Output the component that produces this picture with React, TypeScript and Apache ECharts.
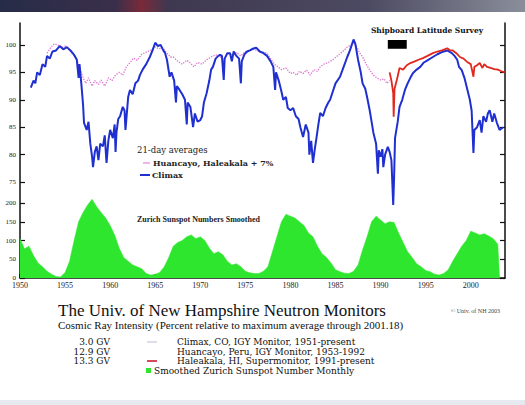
import React, { useEffect, useRef } from "react";
import * as echarts from "echarts";

// ---- Data ----
const xTickYears = [1950, 1955, 1960, 1965, 1970, 1975, 1980, 1985, 1990, 1995, 2000];
const cosmicTicks = [75, 80, 85, 90, 95, 100];
const sunspotTicks = [0, 50, 100, 150, 200];

const climaxYears = [
  1951.2, 1951.5, 1951.7, 1951.9, 1952.2, 1952.5, 1952.8, 1953.0, 1953.3, 1953.6, 1954.0, 1954.4, 1954.8,
  1955.2, 1955.6, 1956.0, 1956.3, 1956.5, 1956.6, 1956.8, 1957.0, 1957.1, 1957.4, 1957.6, 1957.8, 1958.0,
  1958.1, 1958.3, 1958.5, 1958.7, 1958.9, 1959.2, 1959.4, 1959.6, 1959.8, 1960.0, 1960.3, 1960.5, 1960.6,
  1960.7, 1960.9, 1961.1, 1961.4, 1961.6, 1961.7, 1962.0, 1962.2, 1962.5, 1962.8, 1963.1, 1963.3, 1963.6,
  1964.0, 1964.4, 1964.7, 1965.0, 1965.3, 1965.6, 1965.9, 1966.1, 1966.3, 1966.6, 1966.8, 1967.1, 1967.3,
  1967.4, 1967.7, 1968.0, 1968.3, 1968.5, 1968.6, 1968.9, 1969.2, 1969.4, 1969.7, 1970.0, 1970.2, 1970.4,
  1970.7, 1971.0, 1971.2, 1971.4, 1971.7, 1972.0, 1972.2, 1972.4, 1972.6, 1972.7, 1973.0, 1973.3, 1973.5,
  1973.7, 1974.0, 1974.3, 1974.5, 1974.6, 1974.9, 1975.2, 1975.5, 1975.8, 1976.2, 1976.6, 1977.0, 1977.4,
  1977.8, 1978.1, 1978.3, 1978.4, 1978.7, 1979.0, 1979.2, 1979.5, 1979.7, 1980.0, 1980.3, 1980.6, 1980.9,
  1981.1, 1981.4, 1981.7, 1982.0, 1982.1, 1982.3, 1982.5, 1982.7, 1982.9, 1983.1, 1983.3, 1983.6, 1983.9,
  1984.2, 1984.4, 1984.7, 1985.0, 1985.5, 1985.9, 1986.3, 1986.6, 1987.0, 1987.2, 1987.5, 1987.8, 1988.0,
  1988.3, 1988.5, 1988.8, 1989.0, 1989.2, 1989.5, 1989.7, 1989.8, 1990.0, 1990.2, 1990.3, 1990.5, 1990.8,
  1991.0, 1991.2, 1991.4, 1991.5, 1991.6, 1991.9, 1992.1, 1992.4, 1992.7, 1993.0, 1993.3, 1993.6, 1994.0,
  1994.4, 1994.8, 1995.2, 1995.8, 1996.3, 1996.8, 1997.4, 1997.9, 1998.2, 1998.5, 1998.7, 1999.0, 1999.3,
  1999.6, 1999.9, 2000.1, 2000.3, 2000.4, 2000.7, 2001.0, 2001.2, 2001.4, 2001.7, 2001.9, 2002.1, 2002.4,
  2002.6, 2002.9, 2003.2, 2003.6,
];
const climaxValues = [
  92.2, 93.5, 93.0, 95.0, 94.5, 96.5, 96.0, 98.0, 97.5, 98.8, 99.0, 99.8, 99.2,
  99.6, 99.0, 98.2, 97.3, 94.0, 96.5, 93.0, 89.0, 85.8, 84.5, 86.0, 82.0, 79.6,
  77.7, 80.5, 81.5, 79.0, 82.0, 81.5, 83.5, 78.5, 82.5, 84.5, 83.0, 85.5, 80.5,
  84.0, 86.5, 87.0, 88.7, 88.0, 84.5, 90.5, 91.8, 91.0, 93.0, 93.5, 94.5, 95.5,
  96.5, 97.8, 99.0, 100.4, 99.8, 100.0, 99.0, 98.5, 97.3, 94.2, 95.0, 93.5, 89.5,
  92.5, 91.8, 91.0, 90.0, 85.5, 89.5, 88.7, 85.0, 87.5, 86.0, 86.3, 87.0, 89.5,
  91.2, 93.5, 95.5, 96.0, 97.5, 98.0, 98.2, 98.0, 93.6, 97.5, 98.5, 98.5, 97.0,
  98.8, 98.0, 97.5, 93.0, 97.0, 98.3, 98.8, 99.0, 99.3, 99.5, 98.8, 98.5, 98.0,
  97.0, 96.0, 91.8, 95.0, 93.5, 91.5, 90.0, 90.5, 88.5, 88.1, 88.5, 87.0, 86.5,
  85.0, 83.2, 85.5, 84.0, 80.0, 82.5, 78.5, 81.0, 83.2, 85.5, 87.6, 87.0, 88.5,
  89.5, 90.0, 91.5, 93.0, 94.2, 96.0, 97.8, 99.0, 101.0, 100.2, 97.3, 95.0, 93.0,
  92.0, 90.5, 88.0, 86.0, 84.0, 82.0, 76.5, 80.8, 79.6, 81.0, 77.7, 80.0, 81.4,
  80.5, 79.0, 70.8, 76.0, 83.0, 86.0, 88.7, 90.0, 91.8, 93.0, 94.0, 94.9, 95.5,
  96.0, 96.8, 97.2, 97.8, 98.3, 98.7, 99.0, 98.5, 98.0, 97.3, 96.0, 95.4, 94.0,
  92.0, 90.0, 88.0, 80.3, 84.5, 85.0, 86.3, 84.0, 87.0, 86.0, 87.5, 88.1, 86.0,
  87.5, 85.8, 84.5, 85.0,
];

const huancayoYears = [
  1953.0, 1953.4, 1953.8, 1954.2, 1954.6, 1955.0, 1955.5, 1956.0, 1956.3, 1956.7, 1957.0, 1957.3, 1957.6,
  1958.0, 1958.3, 1958.7, 1959.0, 1959.4, 1959.8, 1960.2, 1960.6, 1961.0, 1961.4, 1961.8, 1962.2, 1962.6,
  1963.0, 1963.5, 1964.0, 1964.5, 1965.0, 1965.4, 1965.8, 1966.3, 1966.7, 1967.0, 1967.5, 1968.0, 1968.5,
  1968.9, 1969.3, 1969.7, 1970.2, 1970.7, 1971.2, 1971.7, 1972.2, 1972.6, 1973.0, 1973.5, 1974.0, 1974.5,
  1975.0, 1975.5, 1976.0, 1976.5, 1977.0, 1977.4, 1977.8, 1978.2, 1978.6, 1979.0, 1979.5, 1980.0, 1980.3,
  1980.7, 1981.0, 1981.4, 1981.8, 1982.2, 1982.6, 1983.0, 1983.3, 1983.7, 1984.2, 1984.7, 1985.2, 1985.8,
  1986.3, 1986.7, 1987.0, 1987.4, 1987.7, 1988.0, 1988.4, 1988.8, 1989.2, 1989.6, 1990.0, 1990.4, 1990.7,
  1991.0,
];
const huancayoValues = [
  98.5, 99.5, 100.2, 100.0, 99.5, 99.8, 99.0, 98.0, 97.3, 95.5, 94.0, 93.0, 94.0,
  92.5, 93.5, 92.8, 93.6, 92.5, 94.0, 93.5, 94.5, 95.0, 94.5, 96.0, 96.8, 97.6,
  97.2, 98.3, 98.7, 99.0, 99.6, 99.3, 99.5, 98.5, 97.8, 97.8, 97.0, 96.5, 97.2,
  96.7, 96.0, 96.8, 96.5, 97.3, 97.8, 98.2, 98.0, 97.0, 98.5, 98.2, 98.6, 98.0,
  98.8, 99.0, 99.2, 98.8, 98.7, 98.5, 97.5, 96.5, 96.0, 95.5, 95.8, 94.8, 95.0,
  94.5, 95.2, 94.8, 95.4, 94.5, 95.5, 95.2, 96.0, 96.5, 96.8, 97.3, 98.0, 98.8,
  99.6, 100.0, 100.4, 99.5, 98.5, 97.8, 96.5, 95.4, 94.5, 94.0, 93.6, 93.8, 93.0,
  93.5,
];

const haleakalaYears = [
  1991.0, 1991.2, 1991.4, 1991.45, 1991.55, 1991.8, 1992.1, 1992.5, 1992.9, 1993.3, 1993.8, 1994.2, 1994.7,
  1995.2, 1995.8, 1996.3, 1996.8, 1997.4, 1997.7, 1998.0, 1998.4, 1998.8, 1999.2, 1999.6, 2000.0, 2000.3,
  2000.4, 2000.7, 2001.0, 2001.3, 2001.5, 2001.8, 2002.2, 2002.6, 2003.0, 2003.4, 2003.8,
];
const haleakalaValues = [
  95.0, 93.5, 91.2, 86.9, 92.0, 93.6, 95.8, 95.5, 96.3, 96.7, 97.0, 97.3, 97.6,
  98.0, 98.5, 98.8, 99.0, 99.4, 99.0, 99.0, 98.5, 97.8, 97.5, 96.9, 96.5, 94.2,
  96.0, 96.3, 96.7, 95.8, 96.5, 96.0, 95.8, 95.6, 95.5, 95.2, 95.0,
];

const sunspotYears = [
  1950.0, 1950.5, 1951.0, 1951.5, 1952.0, 1952.5, 1953.0, 1953.5, 1954.0, 1954.5, 1955.0, 1955.5, 1956.0,
  1956.5, 1957.0, 1957.5, 1958.0, 1958.5, 1959.0, 1959.5, 1960.0, 1960.5, 1961.0, 1961.5, 1962.0, 1962.5,
  1963.0, 1963.5, 1964.0, 1964.5, 1965.0, 1965.5, 1966.0, 1966.5, 1967.0, 1967.5, 1968.0, 1968.5, 1969.0,
  1969.5, 1970.0, 1970.5, 1971.0, 1971.5, 1972.0, 1972.5, 1973.0, 1973.5, 1974.0, 1974.5, 1975.0, 1975.5,
  1976.0, 1976.5, 1977.0, 1977.5, 1978.0, 1978.5, 1979.0, 1979.5, 1980.0, 1980.5, 1981.0, 1981.5, 1982.0,
  1982.5, 1983.0, 1983.5, 1984.0, 1984.5, 1985.0, 1985.5, 1986.0, 1986.5, 1987.0, 1987.5, 1988.0, 1988.5,
  1989.0, 1989.5, 1990.0, 1990.5, 1991.0, 1991.5, 1992.0, 1992.5, 1993.0, 1993.5, 1994.0, 1994.5, 1995.0,
  1995.5, 1996.0, 1996.5, 1997.0, 1997.5, 1998.0, 1998.5, 1999.0, 1999.5, 2000.0, 2000.5, 2001.0, 2001.5,
  2002.0, 2002.5, 2003.0, 2003.2,
];
const sunspotValues = [
  105, 78, 85, 60, 40, 30, 18, 10, 4, 3, 15, 45, 100,
  150, 175, 195, 210, 190, 175, 160, 140, 115, 80, 55, 45, 35,
  30, 25, 12, 8, 10, 15, 30, 55, 85, 95, 100, 110, 115,
  105, 110, 100, 80, 65, 70, 62, 45, 35, 38, 30, 18, 14,
  12, 12, 18, 30, 70, 110, 150, 170, 165, 160, 150, 140, 120,
  110, 85, 65, 55, 40, 22, 17, 13, 12, 18, 35, 75, 110,
  150, 165, 155, 145, 150, 148, 120, 95, 70, 55, 38, 30, 20,
  17, 10, 8, 12, 22, 45, 65, 85, 100, 125, 120, 115, 118,
  112, 105, 90, 0,
];

const surveyStart = 1990.8;
const surveyEnd = 1992.9;

const zip = (xs: number[], ys: number[]) => xs.map((x, i) => [x, ys[i]]);

const SERIF = "Liberation Serif";
const WIDE = "DejaVu Serif";

export default function App() {
  const ref = useRef<HTMLDivElement>(null);
  useEffect(() => {
    document.body.style.margin = "0";
    const chart = echarts.init(ref.current!, null, { renderer: "svg" });
    const axisLabelStyle = { fontSize: 7, fontFamily: SERIF, color: "#222", margin: 4 };
    const txt = (x: number, y: number, text: string, fontSize: number, extra: any = {}) => ({
      type: "text", x, y,
      style: { text, fontSize, fontFamily: SERIF, fill: "#111", verticalAlign: "middle", ...extra },
    });
    chart.setOption({
      animation: false,
      backgroundColor: "#ffffff",
      grid: { left: 20, right: 20, top: 23, bottom: 127 },
      xAxis: {
        type: "value",
        min: 1950,
        max: 2003.8,
        interval: 5,
        axisLine: { lineStyle: { color: "#111", width: 1.5 } },
        axisTick: { inside: true, length: 4, lineStyle: { color: "#111", width: 1.5 }, customValues: xTickYears },
        axisLabel: { ...axisLabelStyle, fontSize: 8, margin: 3, customValues: xTickYears, formatter: (v: number) => String(v) },
        splitLine: { show: false },
      },
      yAxis: [
        {
          type: "value", min: 57.5, max: 104, position: "left",
          axisLine: { show: true, lineStyle: { color: "#111", width: 1.5 } },
          axisTick: { show: true, inside: true, length: 5, lineStyle: { color: "#111", width: 1.2 }, customValues: cosmicTicks },
          axisLabel: { ...axisLabelStyle, customValues: cosmicTicks },
          splitLine: { show: false },
        },
        {
          type: "value", min: 0, max: 680, position: "left",
          axisLine: { show: false },
          axisTick: { show: true, inside: true, length: 5, lineStyle: { color: "#111", width: 1.2 }, customValues: sunspotTicks },
          axisLabel: { ...axisLabelStyle, customValues: sunspotTicks },
          splitLine: { show: false },
        },
        {
          type: "value", min: 57.5, max: 104, position: "right",
          axisLine: { show: true, lineStyle: { color: "#111", width: 1.5 } },
          axisTick: { show: true, inside: true, length: 5, lineStyle: { color: "#111", width: 1.2 }, customValues: cosmicTicks },
          axisLabel: { show: false },
          splitLine: { show: false },
        },
        {
          type: "value", min: 0, max: 680, position: "right",
          axisLine: { show: false },
          axisTick: { show: true, inside: true, length: 5, lineStyle: { color: "#111", width: 1.2 }, customValues: sunspotTicks },
          axisLabel: { show: false },
          splitLine: { show: false },
        },
      ],
      series: [
        {
          name: "Sunspots", type: "line", yAxisIndex: 1, data: zip(sunspotYears, sunspotValues),
          showSymbol: false, lineStyle: { width: 0.5, color: "#2ee62e" },
          areaStyle: { color: "#2ee62e", opacity: 1 }, z: 1,
        },
        {
          name: "Huancayo", type: "line", yAxisIndex: 0, data: zip(huancayoYears, huancayoValues),
          showSymbol: false, lineStyle: { width: 1.3, color: "#e070d0", type: "dotted" }, z: 2,
        },
        {
          name: "Climax", type: "line", yAxisIndex: 0, data: zip(climaxYears, climaxValues),
          showSymbol: false, lineStyle: { width: 2, color: "#1f2fd0" }, z: 3,
        },
        {
          name: "Haleakala", type: "line", yAxisIndex: 0, data: zip(haleakalaYears, haleakalaValues),
          showSymbol: false, lineStyle: { width: 1.8, color: "#e0281e" }, z: 4,
          markArea: {
            silent: true,
            itemStyle: { color: "#000" },
            data: [[{ coord: [surveyStart, 100.9] }, { coord: [surveyEnd, 99.3] }]],
          },
        },
      ],
      graphic: [
        {
          type: "rect", left: 0, top: 0, shape: { width: 525, height: 12 },
          style: {
            fill: new echarts.graphic.LinearGradient(0, 0, 1, 0, [
              { offset: 0, color: "#262c48" },
              { offset: 0.22, color: "#3a2f4a" },
              { offset: 0.27, color: "#7a2a3a" },
              { offset: 0.32, color: "#3e3850" },
              { offset: 0.7, color: "#4c4a62" },
              { offset: 1, color: "#8a8e9a" },
            ]),
          },
          silent: true,
        },
        {
          type: "rect", left: 0, top: 400, shape: { width: 525, height: 5 },
          style: { fill: "#e6eaf0" }, silent: true,
        },
        txt(427, 30, "Shipboard Latitude Survey", 7.5, { fontWeight: "bold", align: "center", fontFamily: WIDE }),
        // in-plot legend
        txt(137, 150, "21-day averages", 8.5, { fontFamily: WIDE, fill: "#222" }),
        { type: "line", shape: { x1: 143, y1: 163, x2: 150, y2: 163 }, style: { stroke: "#e070d0", lineWidth: 1 } },
        txt(153, 163, "Huancayo, Haleakala + 7%", 8, { fontFamily: WIDE, fontWeight: "bold", fill: "#222" }),
        { type: "line", shape: { x1: 140, y1: 175, x2: 150, y2: 175 }, style: { stroke: "#1f2fd0", lineWidth: 2 } },
        txt(152, 175, "Climax", 8, { fontFamily: WIDE, fontWeight: "bold", fill: "#222" }),
        txt(137, 219, "Zurich Sunspot Numbers Smoothed", 8, { fontWeight: "bold", fill: "#222" }),
        // bottom title
        txt(58, 310, "The Univ. of New Hampshire Neutron Monitors", 17),
        txt(58, 325, "Cosmic Ray Intensity (Percent relative to maximum average through 2001.18)", 11),
        txt(500, 311, "© Univ. of NH 2003", 6, { align: "right", fill: "#444" }),
        // bottom legend
        txt(110, 342, "3.0 GV", 9, { align: "right", fontFamily: WIDE }),
        txt(110, 351.5, "12.9 GV", 9, { align: "right", fontFamily: WIDE }),
        txt(110, 361, "13.3 GV", 9, { align: "right", fontFamily: WIDE }),
        { type: "line", shape: { x1: 147, y1: 342, x2: 157, y2: 342 }, style: { stroke: "#c8c8dc", lineWidth: 1.2 } },
        { type: "line", shape: { x1: 147, y1: 361, x2: 157, y2: 361 }, style: { stroke: "#d03848", lineWidth: 1.8 } },
        { type: "rect", shape: { x: 146, y: 368, width: 5, height: 5 }, style: { fill: "#2ee62e" } },
        txt(177, 342, "Climax, CO, IGY Monitor, 1951-present", 9, { fontFamily: WIDE }),
        txt(177, 351.5, "Huancayo, Peru, IGY Monitor, 1953-1992", 9, { fontFamily: WIDE }),
        txt(177, 361, "Haleakala, HI, Supermonitor, 1991-present", 9, { fontFamily: WIDE }),
        txt(154, 370.5, "Smoothed Zurich Sunspot Number Monthly", 9, { fontFamily: WIDE }),
      ],
    });
    return () => chart.dispose();
  }, []);
  return <div ref={ref} style={{ width: 525, height: 405 }} />;
}
